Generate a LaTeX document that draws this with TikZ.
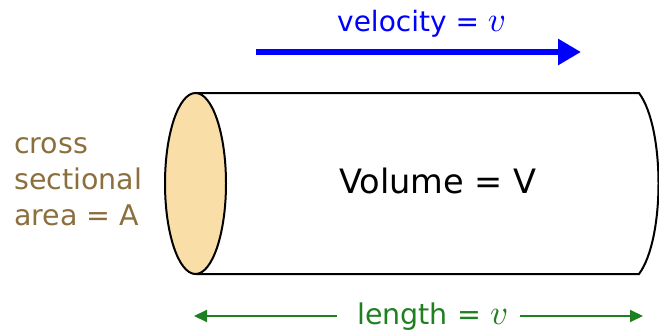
\documentclass[tikz,border=0pt]{standalone}
\usepackage{fontspec}
\setmainfont{DejaVu Sans}
\DeclareFontShape{OML}{cmm}{m}{it}{<->cmmi10}{}
\usetikzlibrary{arrows.meta}
\definecolor{capfill}{RGB}{250,222,168}
\definecolor{labbrown}{RGB}{139,112,62}
\definecolor{velblue}{RGB}{0,0,255}
\definecolor{lengreen}{RGB}{30,128,30}
\newcommand{\bigv}{{\fontsize{35}{40}\selectfont$v$}}
\begin{document}
\begin{tikzpicture}[x=1pt,y=-1pt,
  outline/.style={draw=black,line width=2pt},
  velarrow/.style={velblue,line width=6pt,-{Triangle[length=23pt,width=25pt]}},
  lenarrow/.style={lengreen,line width=2pt,-{Triangle[length=13pt,width=12pt]}},
  lab/.style={inner sep=0pt},
  arealab/.style={lab,font=\fontsize{28.5}{35}\selectfont,labbrown,anchor=base west}]
\useasboundingbox (0,0) rectangle (659,332);
\begin{scope}
\clip (0,0) rectangle (659,332);
% cylinder body
\draw[outline] (196,93) -- (639,93) .. controls (665,128) and (665,239) .. (639,274) -- (196,274);
\end{scope}
\draw[outline,fill=capfill] (195.5,183.5) ellipse [x radius=30.5, y radius=90.5];
% texts
\node[lab,font=\fontsize{33.6}{40}\selectfont,anchor=base] (vol) at (438,193) {Volume = V};
\node[lab,font=\fontsize{28}{34}\selectfont,velblue,anchor=base west] (vel) at (337,31) {velocity = \bigv};
\node[lab,font=\fontsize{28.5}{34}\selectfont,lengreen,anchor=base west] (len) at (357,324) {length = \bigv};
\node[arealab] (area1) at (14,153) {cross};
\node[arealab] (area2) at (14,189) {sectional};
\node[arealab] (area3) at (14,225) {area = A};
% arrows
\coordinate (vs) at (256,52);
\coordinate (ve) at (581,52);
\draw[velarrow] (vs) -- (ve);
\coordinate (ls) at (337,316);
\coordinate (le) at (194,316);
\coordinate (rs) at (520,316);
\coordinate (re) at (643,316);
\draw[lenarrow] (ls) -- (le);
\draw[lenarrow] (rs) -- (re);
\end{tikzpicture}
\end{document}
